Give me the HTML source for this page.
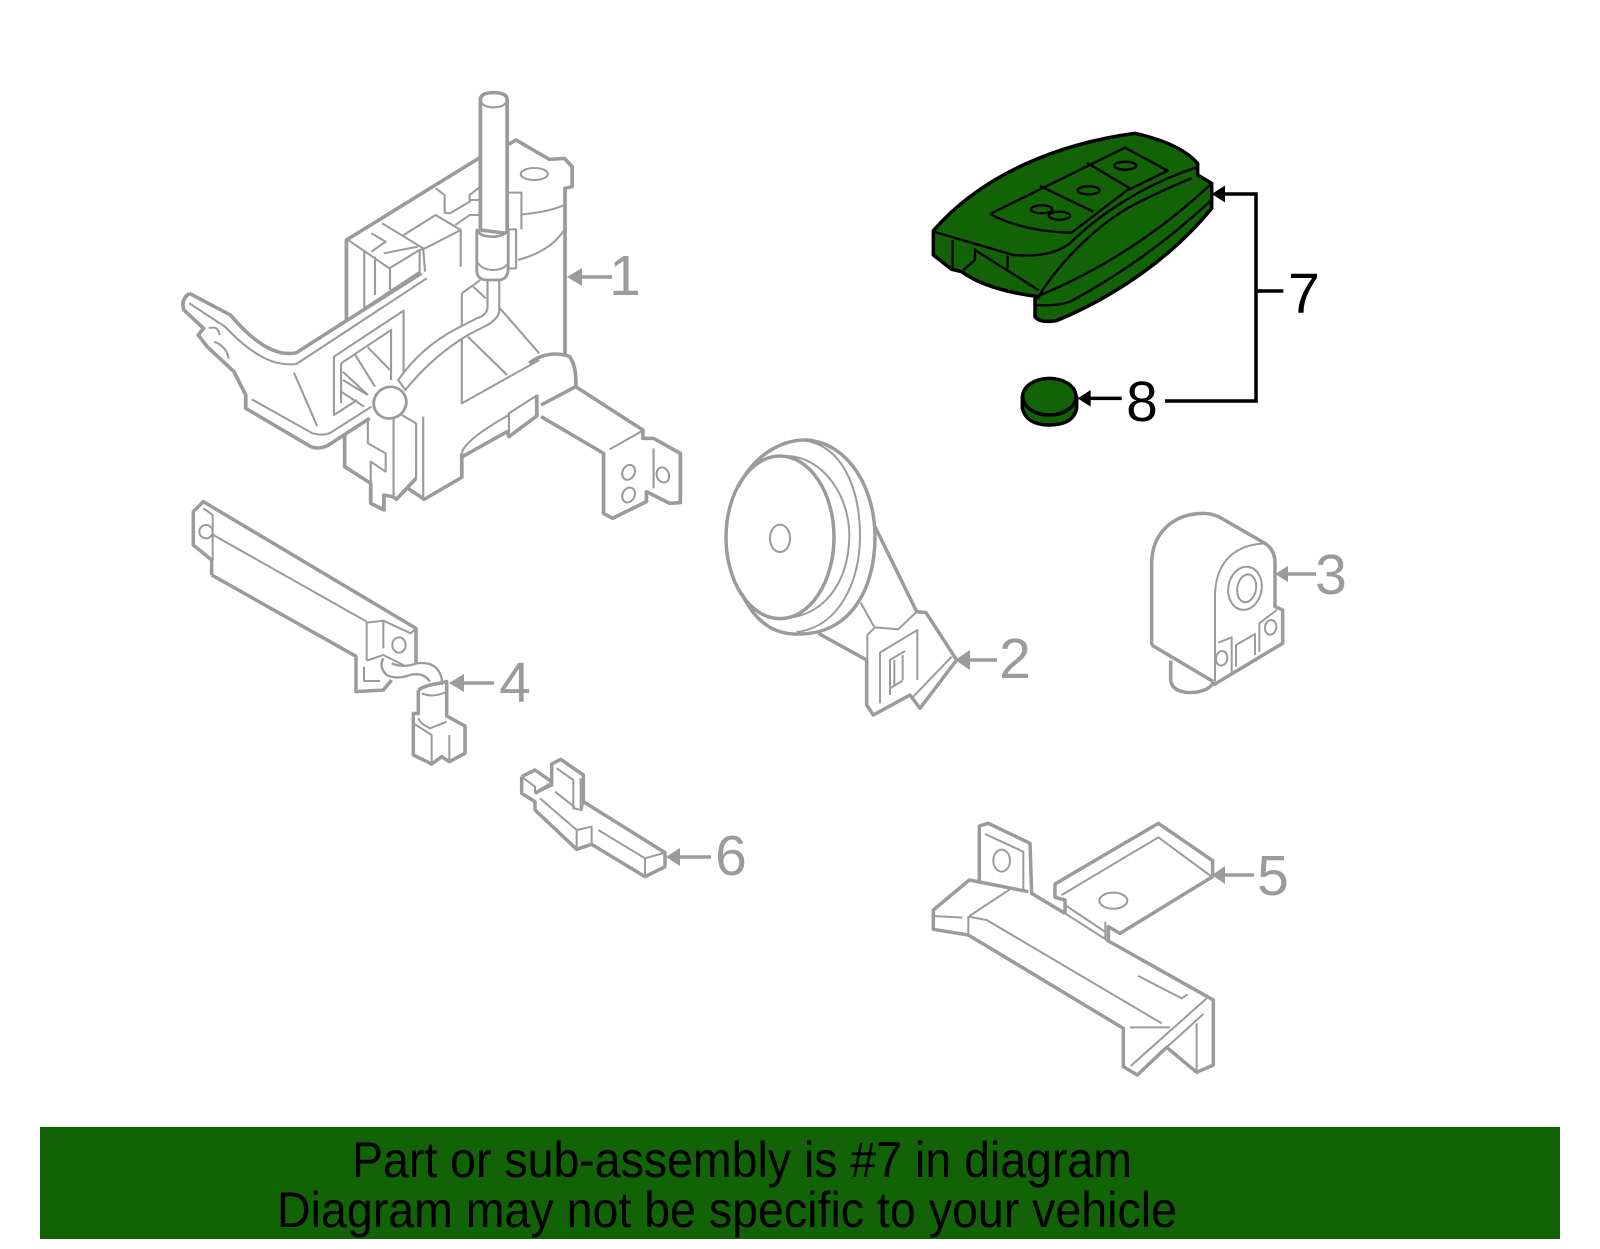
<!DOCTYPE html>
<html><head><meta charset="utf-8"><style>
html,body{margin:0;padding:0;background:#fff;width:1600px;height:1249px;overflow:hidden}
svg{display:block}
.p{fill:none;stroke:#9b9b9b;stroke-linejoin:round}
.t{stroke-width:10.5}.n{stroke-width:6}
.l{font-family:"Liberation Sans",sans-serif;font-size:57px;fill:#9b9b9b;text-anchor:middle}
.a{fill:#9b9b9b;stroke:none}
.k{stroke:#000;fill:none;stroke-linejoin:round}
</style></head><body>
<svg width="1600" height="1249" viewBox="0 0 1600 1249" xmlns="http://www.w3.org/2000/svg">
<rect width="1600" height="1249" fill="#fff"/>

<!-- Part 1 -->
<g transform="translate(150,70) scale(.35714,.33333)" class="p">
<g class="t">
<path d="M925 262L550 510V750"/>
<path d="M1000 225L1025 210L1118 268L1160 265L1182 290V350L1162 355V860"/>
<path d="M110 670L225 735C300 830 360 860 410 848L550 752L760 610"/>
<path d="M110 670Q85 690 95 720L150 775L135 795L160 830L235 905L268 975V1015L450 1130Q475 1140 500 1125L615 1045"/>
<path d="M1062 880Q1090 855 1130 852Q1160 852 1175 860Q1195 890 1192 950L1095 1005"/>
<path d="M1192 950L1380 1080V1105H1410L1485 1150V1298L1455 1300L1390 1265V1295L1295 1345L1270 1330V1150L1095 1040"/>
<path d="M1083 975V1038L1005 1100L1000 1085L875 1160"/>
<path d="M873 1150V1222L768 1288L722 1255"/>
<path d="M745 1225L690 1288L680 1280L655 1275V1320L618 1300V1240L545 1190V1090"/>
</g>
<g class="n">
<ellipse cx="1076" cy="312" rx="38" ry="18"/>
<path d="M800 355L825 375V428L840 430L895 395V375L925 350M895 390H925M1000 368H1040V478M1043 433Q1120 425 1160 405M1030 570Q1120 545 1160 480"/>
<path d="M555 510L670 595L755 540L770 535M600 540V715M630 560V675M672 595V660M620 490L660 515L620 545M650 460L765 535L770 605M655 550L750 530M710 495L800 435L870 480L770 535M855 465L895 435H925M870 480V590M755 540V605M600 715L755 605"/>
<path d="M110 700L210 770C290 860 350 890 410 882L775 625"/>
<path d="M165 775Q190 765 195 795M180 815Q215 830 220 865"/>
<path d="M403 908L468 1068M285 988L455 1090Q490 1100 510 1085L620 1010"/>
<path d="M515 860V1035L580 990M515 860L710 722V925M535 880L675 780V930M535 880V1000"/>
<path d="M575 855L630 950M610 832L672 900M540 905L610 975M540 930L610 975M535 965L600 1010"/>
<path d="M873 670V1000L1090 870M873 670L925 630M905 650L940 685M980 715L1090 850M890 800L1000 915"/>
<path d="M1287 1138L1380 1082M1410 1135V1255M1095 1005L1192 950"/>
<path d="M1085 975L1005 1030V1100M1005 1035Q880 1110 873 1150"/>
<path d="M765 1040V1288M705 1035L745 1060V1225M610 1050V1120L660 1150V1205L618 1175V1240M682 1040V1285"/>
<ellipse cx="1340" cy="1207" rx="17" ry="23" transform="rotate(20 1340 1207)"/>
<ellipse cx="1340" cy="1275" rx="17" ry="23" transform="rotate(20 1340 1275)"/>
<ellipse cx="1436" cy="1215" rx="17" ry="23" transform="rotate(-15 1436 1215)"/>
</g>
<path class="n" style="fill:#fff" d="M945 625V710Q945 735 915 745L860 775Q760 830 695 930L715 960Q790 860 890 795L945 765Q975 745 978 725V625Z"/>
<path class="t" style="fill:#fff" d="M925 480V90Q925 68 962 68Q1000 68 1000 90V490Z"/>
<path class="n" d="M925 90Q930 112 962 112Q995 112 1000 90"/>
<path class="t" style="fill:#fff;stroke-width:8" d="M915 480V600Q915 630 945 630H975Q1000 630 1003 600V480Q990 500 960 500Q925 500 915 480Z"/>
<path class="n" d="M915 575Q930 600 960 600Q990 600 1003 580M1003 478H1025V595H1003"/>
<ellipse class="t" style="fill:#fff;stroke-width:8" cx="672" cy="998" rx="45" ry="48" transform="rotate(25 672 998)"/>
</g>
<path class="a" d="M567 277L582 268V286Z"/><path d="M572 277H612" stroke="#9b9b9b" stroke-width="3.500"/>
<text class="l" x="625" y="295">1</text>

<!-- Part 2 -->
<g transform="translate(710,430) scale(.33333)" class="p">
<g class="t">
<ellipse cx="210" cy="322" rx="162" ry="244"/>
<path d="M85 170C130 80 210 28 290 30C420 40 495 180 495 320C495 480 420 610 270 612C200 615 140 585 95 490"/>
<path d="M495 290L620 545L648 548L740 690L630 835L600 795L490 855L470 825V690L325 610"/>
</g>
<g class="n">
<path d="M230 78C340 80 420 200 418 320C415 460 340 565 210 565"/>
<path d="M270 30C400 40 450 180 450 320C450 450 390 590 260 606"/>
<ellipse cx="210" cy="325" rx="30" ry="41"/>
<path d="M620 545L565 598L495 592L472 615V690M452 518L492 590M510 820V668L622 600V750M540 795V690L585 663M553 690V770M540 775L578 752M578 675V750M610 800L725 680"/>
</g>
</g>
<path class="a" d="M955 660L970 650V670Z"/><path d="M962 660H997" stroke="#9b9b9b" stroke-width="3.500"/>
<text class="l" x="1015" y="678">2</text>

<!-- Part 3 -->
<g transform="translate(1130,500) scale(.33333)" class="p">
<g class="t">
<path d="M65 435V190C65 100 130 40 220 40Q250 40 275 55L405 130Q435 150 435 190V320L458 330V430L250 555"/>
<path d="M65 435L250 545M122 482V540Q125 575 180 578Q240 575 250 545"/>
</g>
<g class="n">
<path d="M255 545V290C255 200 300 135 405 130"/>
<ellipse cx="345" cy="265" rx="50" ry="65" transform="rotate(10 345 265)"/>
<ellipse cx="350" cy="265" rx="28" ry="42" transform="rotate(10 350 265)"/>
<ellipse cx="275" cy="475" rx="17" ry="22" transform="rotate(10 275 475)"/>
<ellipse cx="422" cy="382" rx="17" ry="22" transform="rotate(10 422 382)"/>
<path d="M265 428L305 412V520M318 500V435L375 402V465M388 455V370L440 330"/>
</g>
</g>
<path class="a" d="M1275 574L1288 566V582Z"/><path d="M1280 574H1316" stroke="#9b9b9b" stroke-width="3.500"/>
<text class="l" x="1331" y="594">3</text>

<!-- Part 4 -->
<g transform="translate(170,490) scale(.33333)" class="p">
<g class="t">
<path d="M125 255V210L70 165V65L100 35L738 415V520"/>
<path d="M125 255L560 500M558 498V605L640 600L665 570"/>
<path d="M745 600V670H730V795L785 822L815 800L838 815L885 790V708L830 678V575L780 585Q760 590 745 600"/>
</g>
<g class="n">
<path d="M100 55L128 75V210M130 135L590 395M590 395V510M590 398L640 392L722 430L738 415M640 395V475"/>
<ellipse cx="108" cy="125" rx="20" ry="20"/>
<ellipse cx="687" cy="465" rx="20" ry="23"/>
<path d="M590 512L640 495L700 525M582 530V573H630"/>
<path stroke-width="7" d="M640 505Q625 530 650 555Q680 570 720 555Q760 545 780 575M665 520Q700 535 740 520Q780 515 800 535Q820 560 815 585"/>
<path d="M755 610Q790 625 830 605M730 700L785 735V820M838 735V810M745 685Q750 700 780 715L830 695"/>
</g>
</g>
<path class="a" d="M449 683L464 674V692Z"/><path d="M458 683H494" stroke="#9b9b9b" stroke-width="3.500"/>
<text class="l" x="515" y="702">4</text>

<!-- Part 5 -->
<g transform="translate(920,810) scale(.33333)" class="p">
<g class="t">
<path d="M178 215V48L205 40L330 100L335 250L435 310M560 390L880 570V765L830 787L740 712L652 795L610 770V655L145 375L40 358V300L148 210L325 245"/>
<path d="M435 310V270L405 262V222L715 40L878 152V200L600 370L565 350V390"/>
</g>
<g class="n">
<path d="M195 72L310 125V240M148 318L270 238M145 318V375M40 318L128 323M145 320L200 330L725 640M630 652H750M632 768L860 565M740 712L850 612M830 640V785M655 498L785 565L803 553"/>
<ellipse cx="245" cy="152" rx="25" ry="33"/>
<path d="M425 255L715 82L875 200M435 285L555 365M435 310L560 390M556 335V385"/>
<ellipse cx="580" cy="272" rx="42" ry="24"/>
</g>
</g>
<path class="a" d="M1212 875L1225 866V884Z"/><path d="M1220 875H1254" stroke="#9b9b9b" stroke-width="3.500"/>
<text class="l" x="1273" y="895">5</text>

<!-- Part 6 -->
<g transform="translate(510,750) scale(.33333)" class="p">
<g class="t">
<path d="M35 80V130L75 155V180L200 298L245 283L405 380L465 350V308L220 155V75L152 28L125 42V100L75 130"/>
<path d="M35 80L75 60L125 95"/>
</g>
<g class="n">
<path d="M35 80L75 110V130M75 130L130 105M140 55L190 90V175L215 180L220 155M135 125L195 172M90 145L200 240L245 230V283M200 240V298M265 240L405 325L465 308M405 325V380M212 85V175"/>
</g>
</g>
<path class="a" d="M666 857L680 848V866Z"/><path d="M675 857H711" stroke="#9b9b9b" stroke-width="3.500"/>
<text class="l" x="731" y="875">6</text>

<!-- Part 7 & 8 -->
<g transform="translate(900,110) scale(.33333)">
<path d="M100 362C250 190 480 100 705 70Q840 100 893 160V195L935 220V295C800 460 620 570 470 632Q420 640 405 620V565L415 560Q260 540 185 485L155 478L100 435Z" fill="#116305" stroke="#000" stroke-width="10.500" stroke-linejoin="round"/>
<g class="k" stroke-width="7">
<path d="M100 365L340 435Q450 445 510 400C600 310 740 220 890 172"/>
<path d="M415 560C470 470 580 350 700 285Q800 235 875 205"/>
<path d="M415 558Q700 440 930 225"/>
<path d="M405 585Q480 590 520 570Q740 450 935 270"/>
<path d="M158 390V478M225 415V450L190 480M225 420L415 540M323 437V475"/>
<path d="M270 312L675 113L803 182L685 240M270 312Q370 365 515 368L685 238M420 228L580 305M560 158L690 235"/>
<ellipse cx="425" cy="298" rx="32" ry="12"/>
<ellipse cx="478" cy="317" rx="32" ry="12"/>
<ellipse cx="566" cy="241" rx="33" ry="12"/>
<ellipse cx="676" cy="167" rx="33" ry="12"/>
</g>
<path d="M367 862V895Q380 945 448 945Q520 945 530 895V862Z" fill="#116305" stroke="#000" stroke-width="10.500"/>
<ellipse cx="448" cy="860" rx="80" ry="55" fill="#116305" stroke="#000" stroke-width="10.500"/>
<path class="k" stroke-width="7" d="M370 870Q390 915 448 915Q510 915 528 870"/>
<path d="M1150 543H1068M960 252H1068V873H795M560 865H665" fill="none" stroke="#000" stroke-width="10.500"/>
<path d="M935 252L975 227V277ZM533 865L572 840V890Z" fill="#000"/>
</g>
<text class="l" x="1304" y="313" style="fill:#000">7</text>
<text class="l" x="1142" y="421" style="fill:#000">8</text>

<!-- Banner -->
<rect x="40" y="1127" width="1520" height="112" fill="#116305"/>
<text x="352" y="1177" textLength="780" lengthAdjust="spacingAndGlyphs" font-family="'Liberation Sans',sans-serif" font-size="50" fill="#000">Part or sub-assembly is #7 in diagram</text>
<text x="277" y="1227" textLength="900" lengthAdjust="spacingAndGlyphs" font-family="'Liberation Sans',sans-serif" font-size="50" fill="#000">Diagram may not be specific to your vehicle</text>
</svg>
</body></html>
